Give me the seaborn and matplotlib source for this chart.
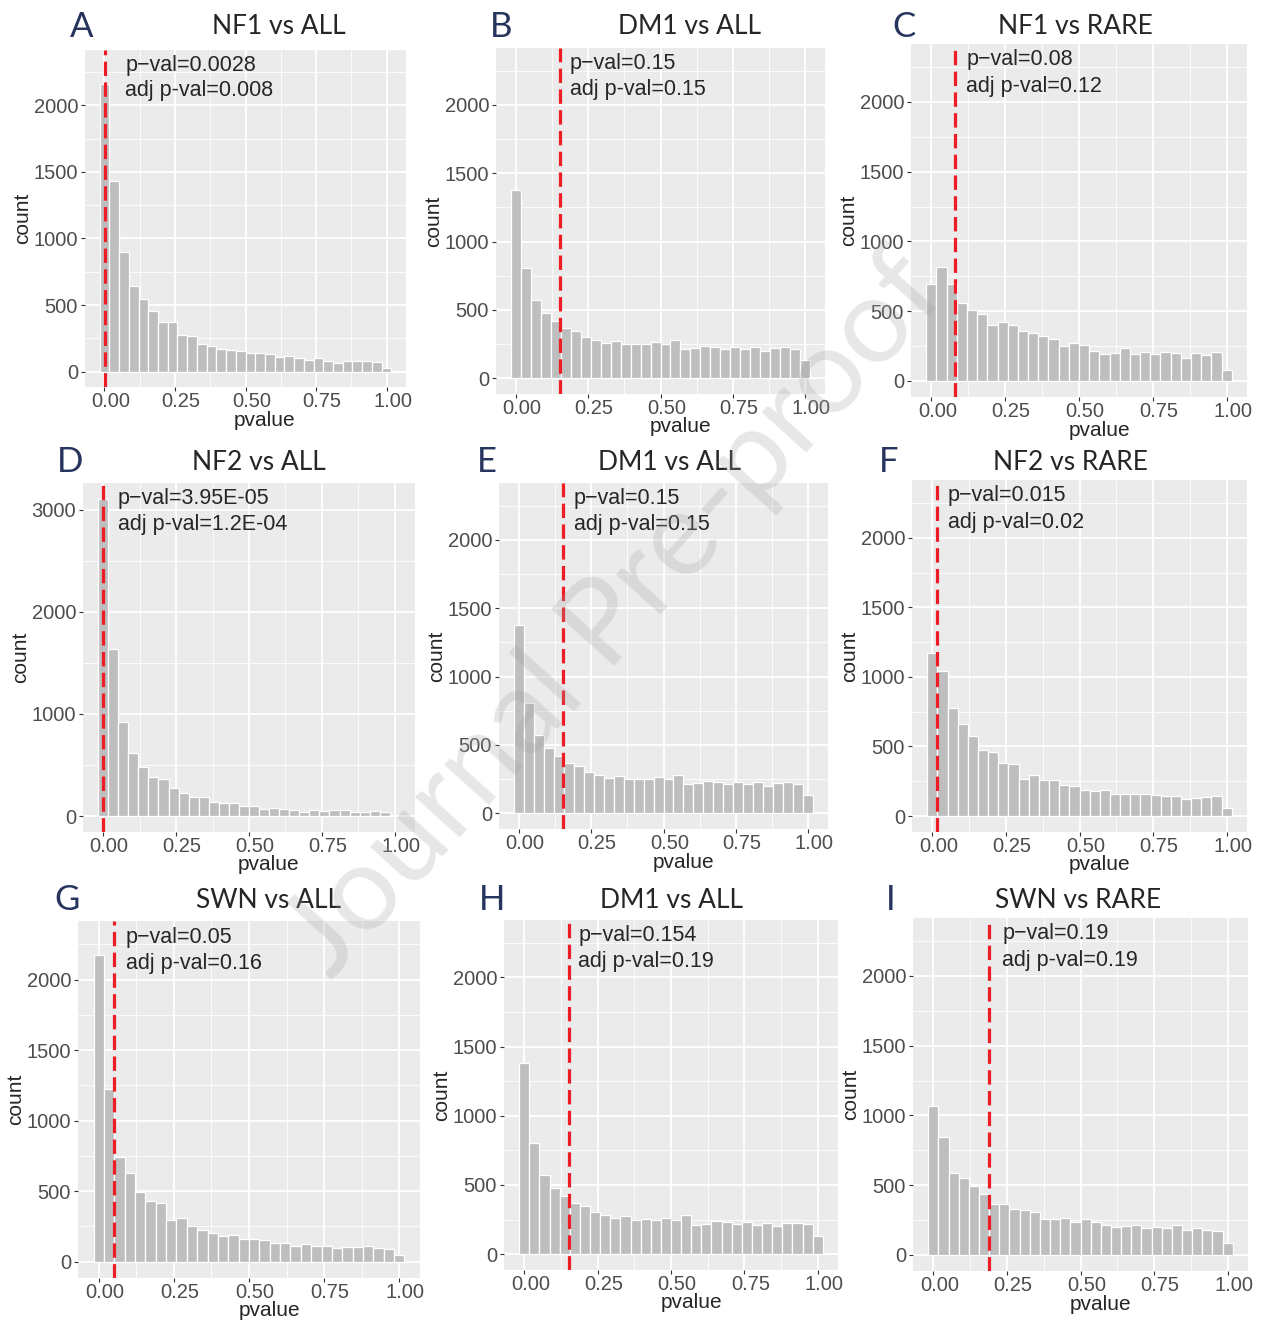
import numpy as np
import pandas as pd
import seaborn as sns
import matplotlib.pyplot as plt
import matplotlib.transforms as mtransforms

# counts per bin (30 bins over 0..1, ggplot default)
nf1_all = [2160, 1435, 895, 645, 545, 452, 370, 370, 274, 269, 206, 191, 173, 163, 158,
           143, 138, 130, 113, 118, 105, 88, 100, 83, 68, 80, 80, 80, 75, 25]
dm1_all = [1378, 805, 573, 476, 420, 366, 346, 305, 280, 261, 276, 249, 251, 249, 264,
           249, 280, 212, 220, 239, 229, 215, 232, 212, 227, 202, 222, 227, 215, 134]
nf1_rare = [695, 817, 695, 561, 512, 481, 398, 420, 398, 359, 342, 322, 298, 251, 273,
            259, 215, 190, 203, 237, 190, 207, 195, 205, 200, 164, 200, 183, 207, 80]
nf2_all = [3105, 1635, 919, 615, 484, 386, 363, 278, 229, 190, 186, 134, 131, 124, 98,
           98, 69, 75, 72, 65, 42, 59, 52, 65, 65, 42, 42, 49, 39, 13]
nf2_rare = [1172, 1040, 777, 658, 576, 476, 459, 383, 371, 268, 296, 261, 261, 225, 213,
            187, 177, 187, 155, 155, 160, 160, 148, 141, 146, 120, 129, 139, 146, 60]
swn_all = [2171, 1223, 743, 628, 497, 428, 414, 298, 309, 250, 224, 202, 183, 190, 160,
           160, 157, 136, 136, 112, 124, 112, 112, 100, 107, 107, 110, 95, 93, 45]
swn_rare = [1069, 842, 590, 548, 495, 435, 364, 364, 332, 320, 308, 261, 261, 268, 237,
            256, 239, 213, 203, 206, 218, 196, 201, 196, 215, 179, 196, 177, 172, 84]

letters = ["A", "B", "C", "D", "E", "F", "G", "H", "I"]
titles = ["NF1 vs ALL", "DM1 vs ALL", "NF1 vs RARE", "NF2 vs ALL", "DM1 vs ALL",
          "NF2 vs RARE", "SWN vs ALL", "DM1 vs ALL", "SWN vs RARE"]
counts = [nf1_all, dm1_all, nf1_rare, nf2_all, dm1_all, nf2_rare, swn_all, dm1_all, swn_rare]
pvals = [0.0028, 0.154, 0.08, 3.95e-05, 0.154, 0.015, 0.05, 0.154, 0.19]
pval_text = ["p\u2212val=0.0028", "p\u2212val=0.15", "p\u2212val=0.08", "p\u2212val=3.95E-05",
             "p\u2212val=0.15", "p\u2212val=0.015", "p\u2212val=0.05", "p\u2212val=0.154",
             "p\u2212val=0.19"]
adj_text = ["adj p-val=0.008", "adj p-val=0.15", "adj p-val=0.12", "adj p-val=1.2E-04",
            "adj p-val=0.15", "adj p-val=0.02", "adj p-val=0.16", "adj p-val=0.19",
            "adj p-val=0.19"]

# layout (pixels in a 1266x1322 canvas)
W, H = 1266, 1322
rects = [(85, 50, 406, 387), (496, 48, 825, 394), (911, 44, 1247, 397),
         (83, 483, 415, 832), (499, 483, 828, 829), (912, 480, 1247, 832),
         (78, 921, 420, 1278), (504, 920, 838, 1270), (913, 918, 1248, 1271)]
title_xy = [(279, 27), (689, 27), (1075, 27), (259, 462), (669, 462), (1070, 463),
            (268, 901), (671, 900), (1078, 900)]
letter_xy = [(82, 27), (501, 27), (904, 27), (70, 462), (487, 462), (889, 462),
             (67, 900), (492, 900), (891, 900)]
text_x = [0.125, 0.225, 0.164, 0.105, 0.228, 0.107, 0.14, 0.222, 0.266]

sns.set_theme(style="darkgrid")
plt.rcParams["font.family"] = ["Liberation Sans", "DejaVu Sans"]

fig = plt.figure(figsize=(W / 100, H / 100), dpi=100)

bw = 1 / 29
centers = np.linspace(0, 1, 30)
shift = mtransforms.ScaledTranslation(6 / 100, 2 / 100, fig.dpi_scale_trans)

for i in range(9):
    df = pd.DataFrame({"pvalue": centers, "count": counts[i]})
    x0, y0, x1, y1 = rects[i]
    ax = fig.add_axes([x0 / W, 1 - y1 / H, (x1 - x0) / W, (y1 - y0) / H])
    ax.set_facecolor("#ebebeb")
    sns.histplot(data=df, x="pvalue", weights="count", binwidth=bw,
                 binrange=(-bw / 2, 1 + bw / 2), ax=ax,
                 color="#bebebe", edgecolor="white", linewidth=0.9, alpha=1)
    ax.axvline(pvals[i], color="#ee1c25", ls=(0, (4.5, 2)), lw=2.3, zorder=5)

    ax.set_xlim(-0.069, 1.069)
    if max(counts[i]) > 2500:
        ax.set_ylim(-155, 3260)
        ax.set_yticks([0, 1000, 2000, 3000])
        ax.set_yticks([500, 1500, 2500], minor=True)
    else:
        ax.set_ylim(-115, 2415)
        ax.set_yticks([0, 500, 1000, 1500, 2000])
        ax.set_yticks([250, 750, 1250, 1750, 2250], minor=True)
    ax.set_xticks([0, 0.25, 0.5, 0.75, 1.0])
    ax.set_xticklabels(["0.00", "0.25", "0.50", "0.75", "1.00"])
    ax.set_xticks([0.125, 0.375, 0.625, 0.875], minor=True)
    ax.grid(which="major", color="white", lw=1.3)
    ax.grid(which="minor", color="white", lw=0.6)
    ax.set_axisbelow(True)
    for s in ax.spines.values():
        s.set_visible(False)
    ax.tick_params(which="major", length=3, width=0.8, color="#333333",
                   labelsize=14.5, labelcolor="#4d4d4d", pad=2, bottom=True, left=True)
    ax.tick_params(which="minor", length=0)
    for lab in ax.get_xticklabels():
        lab.set_transform(lab.get_transform() + shift)
    ax.set_xlabel("pvalue", fontsize=15, va="center")
    ax.xaxis.set_label_coords(0.56, -33 / (y1 - y0))
    ax.set_ylabel("count", fontsize=15, labelpad=1)

    ax.text(text_x[i], 0.955, pval_text[i], transform=ax.transAxes, fontsize=15.5,
            ha="left", va="center")
    ax.text(text_x[i], 0.88, adj_text[i], transform=ax.transAxes, fontsize=15.5,
            ha="left", va="center")

    tx, ty = title_xy[i]
    fig.text(tx / W, 1 - ty / H, titles[i], fontsize=19, family=["Lato", "DejaVu Sans"],
             ha="center", va="center")
    lx, ly = letter_xy[i]
    fig.text(lx / W, 1 - ly / H, letters[i], fontsize=25, color="#26345e",
             family=["Lato", "DejaVu Sans"], ha="center", va="center")

# watermark
fig.text(0.486, 0.535, "Journal Pre-proof", rotation=48, fontsize=86,
         family=["Lato", "DejaVu Sans"], color="#a0a0a0", alpha=0.25,
         ha="center", va="center", zorder=20)

fig.savefig("out.png", dpi=100)
